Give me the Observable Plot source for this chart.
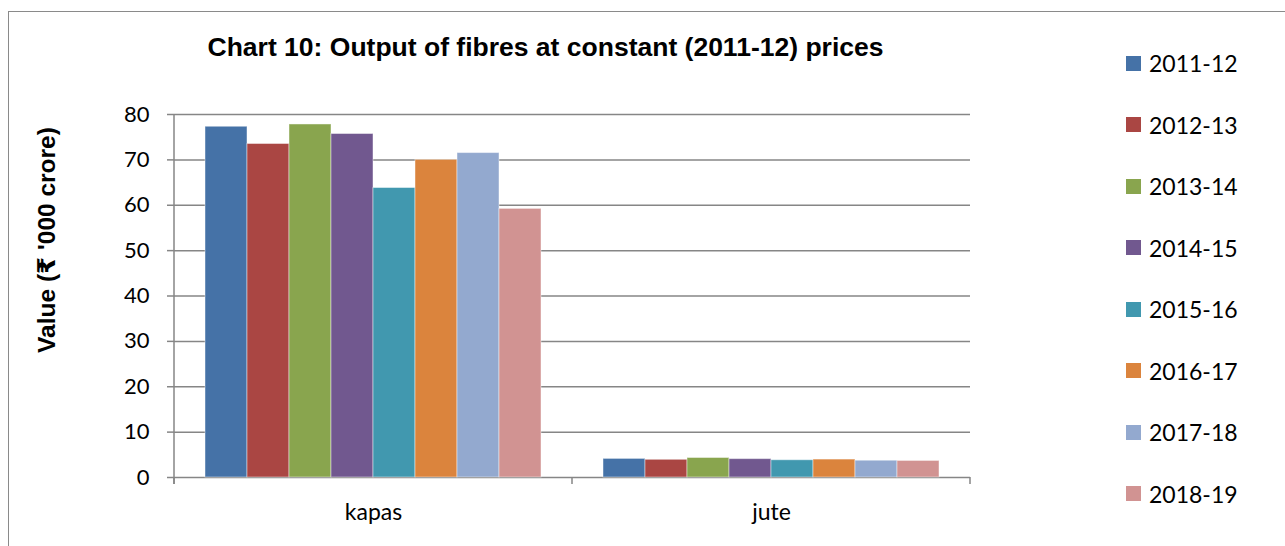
<!DOCTYPE html>
<html>
<head>
<meta charset="utf-8">
<script src="https://cdn.jsdelivr.net/npm/d3@7"></script>
<script src="https://cdn.jsdelivr.net/npm/@observablehq/plot@0.6"></script>
<style>
  html, body { margin: 0; padding: 0; background: #fff; overflow: hidden; }
  #wrap { position: relative; width: 1285px; height: 546px; overflow: hidden; }
  #frame { position: absolute; left: 8px; top: 11px; width: 1400px; height: 700px; border: 1.5px solid #8a8a8a; box-sizing: border-box; }
  #chart { position: absolute; left: 0; top: 0; }
  #title { position: absolute; left: 0; width: 1091px; top: 31.5px; line-height: 1; text-align: center; font: bold 26.5px "Liberation Sans", Arial, sans-serif; color: #000; white-space: nowrap; }
  #ylabel { position: absolute; left: 46px; top: 240px; line-height: 1; transform: translate(-50%, -50%) rotate(-90deg); white-space: nowrap; font: bold 24.5px "Liberation Sans", "DejaVu Sans", "Noto Sans", Arial, sans-serif; color: #000; }
  .leg { position: absolute; left: 1126px; height: 26px; display: flex; align-items: center; font: 23px Lato, "Open Sans", sans-serif; color: #000; transform: translateY(-50%); white-space: nowrap; }
  .leg span.sw { display: inline-block; width: 15px; height: 15px; margin-right: 8px; }
</style>
</head>
<body>
<div id="wrap">
  <div id="frame"></div>
  <div id="chart"></div>
  <div id="title"></div>
  <div id="ylabel"></div>
</div>
<script>
const titleText = "Chart 10: Output of fibres at constant (2011-12) prices";
const yLabel = "Value (\u20B9 '000 crore)";
const categories = ["kapas", "jute"];
const years = ["2011-12", "2012-13", "2013-14", "2014-15", "2015-16", "2016-17", "2017-18", "2018-19"];
const kapas = [77.3, 73.5, 77.8, 75.7, 63.8, 70.0, 71.5, 59.2];
const jute = [4.1, 3.9, 4.3, 4.05, 3.8, 3.95, 3.7, 3.65];
const colors = ["#4572A7", "#AA4643", "#89A54E", "#71588F", "#4198AF", "#DB843D", "#93A9CF", "#D19392"];
const yTicks = [0, 10, 20, 30, 40, 50, 60, 70, 80];

const seriesByCat = { kapas, jute };
const data = categories.flatMap(c => years.map((yr, i) => ({ cat: c, year: yr, value: seriesByCat[c][i] })));

document.getElementById("title").textContent = titleText;
document.getElementById("ylabel").textContent = yLabel;

const grey = "#868686";
const chart = Plot.plot({
  width: 1285,
  height: 546,
  marginLeft: 173,
  marginRight: 315,
  marginTop: 114,
  marginBottom: 69,
  style: { fontFamily: "Lato, 'Open Sans', sans-serif", background: "transparent", overflow: "visible" },
  fx: { domain: categories, padding: 0, label: null },
  x: { domain: years, paddingInner: 0, paddingOuter: 0.72, axis: null },
  y: { domain: [0, 80], axis: null },
  color: { domain: years, range: colors },
  marks: [
    Plot.ruleY(yTicks, { stroke: grey, strokeWidth: 1.5, strokeOpacity: 1 }),
    Plot.barY(data, { fx: "cat", x: "year", y: "value", fill: "year", stroke: "#fff", strokeOpacity: 0.45, strokeWidth: 1 }),
    Plot.axisY({ ticks: yTicks, tickSize: 7, tickPadding: 18, fontSize: 22, stroke: grey, strokeWidth: 1.5, strokeOpacity: 1, color: "#000", label: null }),
    Plot.axisFx({ anchor: "bottom", tickSize: 0, tickPadding: 26, fontSize: 23, color: "#000", label: null })
  ]
});
document.getElementById("chart").appendChild(chart);

// Excel-style axis line and category boundary ticks, positioned via Plot's scales
const fx = chart.scale("fx");
const ys = chart.scale("y");
const svg = d3.select(chart);
const y0 = ys.apply(0), yTop = ys.apply(80);
const edges = categories.map(c => fx.apply(c));
edges.push(edges[edges.length - 1] + fx.bandwidth);
const g = svg.append("g").attr("stroke", grey).attr("stroke-width", 1.5);
g.append("line").attr("x1", edges[0]).attr("x2", edges[0]).attr("y1", yTop).attr("y2", y0 + 7);
edges.forEach(x => g.append("line").attr("x1", x).attr("x2", x).attr("y1", y0).attr("y2", y0 + 7));

// Legend
const wrap = document.getElementById("wrap");
years.forEach((yr, i) => {
  const d = document.createElement("div");
  d.className = "leg";
  d.style.top = (63 + i * 61.5) + "px";
  d.innerHTML = `<span class="sw" style="background:${colors[i]}"></span>${yr}`;
  wrap.appendChild(d);
});
</script>
</body>
</html>
